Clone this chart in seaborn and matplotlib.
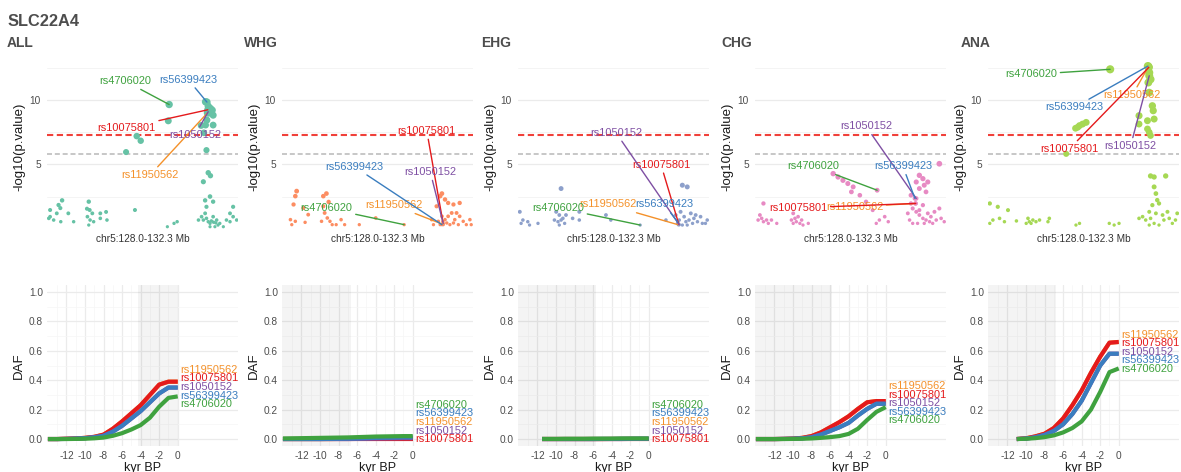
import numpy as np
import pandas as pd
import matplotlib
matplotlib.use("Agg")
import matplotlib.pyplot as plt
import seaborn as sns

# ---------------- data ----------------
GENE = "SLC22A4"
POPS = ["ALL", "WHG", "EHG", "CHG", "ANA"]
SNPS = ["rs11950562", "rs10075801", "rs1050152", "rs56399423", "rs4706020"]

# highlighted SNP positions (Mb) and -log10(p) per population (order of SNPS)
SNP_MB = [131.61, 131.62, 131.63, 131.60, 130.75]
SNP_LOGP = {
    "ALL": [9.0, 9.25, 9.1, 9.85, 9.66],
    "WHG": [0.35, 0.55, 0.40, 0.31, 0.31],
    "EHG": [0.30, 0.35, 0.30, 0.50, 0.28],
    "CHG": [1.96, 1.96, 2.35, 2.35, 2.99],
    "ANA": [12.6, 12.55, 11.9, 12.65, 12.4],
}

# other SNPs in the region: (position Mb, -log10 p)
ALL_POINTS = [
    (130.73, 8.39), (130.02, 7.20), (130.11, 6.84), (129.78, 5.96), (131.57, 9.87), (131.63, 9.53),
    (131.68, 9.35), (131.72, 9.22), (131.65, 9.00), (131.74, 8.83), (131.60, 8.45), (131.57, 8.06),
    (131.53, 7.46), (131.59, 6.11), (131.74, 8.06), (131.47, 8.03), (131.63, 4.35), (131.68, 4.12),
    (131.52, 3.65),
    (128.07, 0.93), (128.04, 0.80), (128.15, 0.67), (128.26, 1.84), (128.34, 2.20), (128.30, 1.60),
    (128.22, 1.19), (128.31, 0.54), (128.07, 1.45), (128.60, 0.54), (128.48, 1.19),
    (128.94, 2.10), (128.96, 1.45), (128.91, 0.93), (128.97, 0.67), (128.94, 0.28), (129.02, 1.19),
    (128.90, 1.55), (129.05, 0.54), (129.20, 0.80), (129.20, 1.19), (129.33, 1.30), (129.35, 0.67),
    (129.98, 1.45), (130.71, 0.15), (130.86, 0.41), (130.93, 0.54),
    (131.41, 0.67), (131.48, 0.93), (131.52, 0.67), (131.56, 1.19), (131.59, 0.80), (131.63, 0.54),
    (131.67, 0.41), (131.74, 0.93), (131.82, 0.67), (131.89, 0.41), (131.97, 0.15), (132.04, 0.67),
    (132.12, 0.54), (132.19, 0.93), (132.27, 0.67), (131.56, 2.20), (131.67, 2.50), (131.59, 1.70),
    (131.74, 2.10), (132.12, 1.19), (132.19, 1.70), (131.67, 0.15), (131.78, 0.15), (131.85, 0.28),
    (131.70, 0.60), (131.75, 0.50), (131.80, 0.45),
]
WHG_POINTS = [
    (128.33, 2.92), (128.30, 2.53), (128.26, 1.88), (128.19, 0.70), (128.22, 0.31), (128.30, 0.57),
    (128.48, 1.61), (128.59, 1.09), (128.52, 0.49),
    (128.93, 2.53), (129.00, 2.73), (129.05, 2.08), (128.93, 1.74), (128.96, 1.22), (129.02, 0.83),
    (129.08, 0.57), (129.13, 0.31), (128.89, 0.57), (129.22, 0.31), (129.33, 0.70), (129.41, 0.31),
    (130.11, 0.83), (129.74, 0.31),
    (131.48, 1.74), (131.56, 2.53), (131.60, 2.73), (131.67, 2.27), (131.74, 2.00), (131.86, 1.88),
    (131.93, 1.22), (132.00, 2.00), (132.00, 0.96), (131.60, 0.96), (131.67, 0.70), (131.71, 0.44),
    (131.78, 0.31), (131.86, 0.44), (131.89, 0.70), (131.97, 0.31), (132.08, 0.57), (132.15, 0.31),
    (132.23, 0.70), (131.56, 0.31), (131.63, 0.31), (131.74, 0.96), (131.82, 1.22), (131.52, 0.57),
    (131.41, 0.31), (131.37, 0.70), (132.26, 0.31),
]
EHG_POINTS = [
    (128.04, 1.31), (128.11, 0.67), (128.22, 0.54), (128.26, 0.28), (128.07, 0.41), (128.45, 0.41),
    (128.86, 1.31), (128.93, 1.06), (129.01, 0.80), (128.90, 0.54), (128.97, 0.67), (129.05, 0.41),
    (129.08, 1.06), (128.82, 0.67), (128.93, 0.28), (128.97, 3.12),
    (129.23, 0.80), (129.38, 0.67), (129.38, 1.31), (129.98, 1.06), (130.09, 0.67), (131.33, 0.67),
    (131.70, 3.38), (131.81, 3.25), (131.55, 1.06), (131.63, 0.67), (131.66, 1.31), (131.74, 0.93),
    (131.78, 0.54), (131.85, 0.67), (131.89, 1.19), (131.93, 0.41), (131.96, 0.80), (132.00, 1.06),
    (132.04, 0.54), (132.11, 0.93), (132.22, 0.41), (132.26, 0.67), (132.15, 0.41), (131.59, 0.41),
    (131.70, 0.28), (131.81, 0.28),
]
CHG_POINTS = [
    (128.19, 1.96), (128.11, 1.06), (128.15, 0.80), (128.19, 0.54), (128.26, 0.67), (128.30, 0.41),
    (128.37, 0.67), (128.07, 0.67), (128.49, 0.41),
    (128.86, 1.19), (128.90, 0.80), (128.93, 0.54), (128.97, 0.93), (128.86, 0.41), (129.01, 0.41),
    (129.05, 0.67), (128.82, 0.67), (129.20, 0.41), (129.08, 0.28),
    (129.76, 4.28), (129.87, 4.02), (129.98, 3.76), (130.09, 3.51), (130.21, 3.25), (130.17, 2.86),
    (130.36, 2.60), (130.50, 2.09), (130.65, 1.44), (130.80, 0.67), (130.92, 0.93), (131.00, 0.54),
    (130.73, 0.41),
    (131.70, 4.15), (131.78, 3.89), (131.63, 3.63), (131.81, 3.38), (131.89, 3.63), (131.70, 3.12),
    (131.85, 2.86), (131.51, 2.60), (131.51, 1.96), (131.55, 1.57), (131.63, 1.31), (131.70, 1.06),
    (131.78, 0.80), (131.85, 0.67), (131.93, 0.54), (132.00, 0.41), (131.48, 0.67), (131.55, 0.41),
    (131.66, 0.41), (131.81, 0.41), (131.89, 1.19), (131.96, 0.93), (132.08, 0.67), (132.15, 1.57),
    (132.19, 0.80), (132.26, 0.54), (132.15, 5.05), (131.78, 1.83), (131.70, 1.44), (131.44, 1.19),
    (132.04, 1.31),
]
ANA_POINTS = [
    (131.63, 12.14), (131.66, 11.62), (131.61, 11.37), (131.63, 10.59), (131.70, 9.56), (131.72, 9.18),
    (131.74, 8.53), (131.59, 7.76), (131.63, 7.50), (131.66, 7.24), (131.59, 8.40), (131.40, 8.79),
    (131.40, 8.14),
    (129.97, 7.81), (130.06, 8.02), (130.13, 8.14), (130.21, 8.27), (130.02, 7.89), (129.76, 5.82),
    (131.66, 4.10), (131.74, 4.02), (132.00, 4.10), (131.74, 3.25), (131.78, 2.73), (131.81, 2.22),
    (131.85, 1.96), (131.70, 1.83), (131.63, 1.31), (131.66, 0.80), (131.55, 0.67), (131.48, 0.93),
    (131.78, 1.19), (131.93, 1.06), (131.96, 0.67), (132.04, 1.31), (132.08, 0.80), (132.15, 0.41),
    (132.22, 0.67), (132.26, 1.19), (131.74, 0.41), (131.85, 0.28), (131.63, 0.28), (131.40, 0.80),
    (128.04, 1.96), (128.04, 0.41), (128.11, 0.67), (128.22, 1.70), (128.26, 0.80), (128.37, 0.54),
    (128.45, 1.44), (128.64, 0.60),
    (128.90, 0.80), (128.93, 0.54), (129.01, 0.67), (129.08, 0.54), (128.97, 0.41), (128.86, 0.41),
    (129.16, 0.67), (129.35, 0.54), (129.38, 0.80),
    (129.98, 0.28), (130.06, 0.41), (130.73, 0.41), (130.84, 0.28), (130.95, 0.41),
]
POINTS = {"ALL": ALL_POINTS, "WHG": WHG_POINTS, "EHG": EHG_POINTS, "CHG": CHG_POINTS, "ANA": ANA_POINTS}

SIG_LINE = 7.3      # genome-wide
SUGG_LINE = 5.8     # suggestive

# DAF trajectories (kyr BP), values in order of SNPS
KYR_14 = [-14, -13, -12, -11, -10, -9, -8, -7, -6, -5, -4, -3, -2, -1, 0]
KYR_EHG = [-11.5, -11, -10, -9, -8, -7, -6, -5, -4, -3, -2, -1, 0]
KYR_ANA = [-11, -10, -9, -8, -7, -6, -5, -4, -3, -2, -1, 0]
DAF_KYR = {"ALL": KYR_14, "WHG": KYR_14, "EHG": KYR_EHG, "CHG": KYR_14, "ANA": KYR_ANA}

DAF_ALL = [
    [0, 0, 0.002, 0.004, 0.008, 0.015, 0.03, 0.07, 0.12, 0.175, 0.23, 0.30, 0.37, 0.39, 0.39],
    [0, 0, 0.002, 0.004, 0.008, 0.015, 0.03, 0.07, 0.12, 0.175, 0.23, 0.30, 0.37, 0.39, 0.39],
    [0, 0, 0.001, 0.003, 0.006, 0.012, 0.022, 0.05, 0.09, 0.14, 0.19, 0.25, 0.31, 0.35, 0.35],
    [0, 0, 0.001, 0.003, 0.006, 0.012, 0.022, 0.05, 0.09, 0.14, 0.19, 0.25, 0.31, 0.35, 0.35],
    [0, 0, 0, 0.001, 0.002, 0.005, 0.01, 0.022, 0.04, 0.065, 0.095, 0.145, 0.22, 0.28, 0.29],
]
DAF_WHG = [
    [0, 0, 0, 0, 0, 0, 0.001, 0.002, 0.003, 0.004, 0.005, 0.006, 0.007, 0.008, 0.008],
    [0, 0, 0, 0, 0, 0, 0, 0, 0, 0, 0, 0, 0, 0, 0],
    [0, 0, 0, 0, 0, 0, 0, 0, 0.001, 0.002, 0.003, 0.004, 0.005, 0.006, 0.006],
    [0, 0, 0, 0, 0, 0.001, 0.002, 0.003, 0.004, 0.006, 0.008, 0.009, 0.010, 0.012, 0.012],
    [0.004, 0.005, 0.006, 0.007, 0.008, 0.009, 0.010, 0.011, 0.013, 0.015, 0.017, 0.018, 0.019, 0.020, 0.020],
]
DAF_EHG = [
    [0, 0, 0, 0, 0, 0, 0, 0, 0.001, 0.001, 0.002, 0.002, 0.002],
    [0, 0, 0, 0, 0, 0, 0, 0, 0, 0, 0, 0, 0],
    [0, 0, 0, 0, 0, 0, 0, 0, 0, 0, 0.001, 0.001, 0.001],
    [0, 0, 0, 0, 0, 0, 0, 0.001, 0.001, 0.002, 0.002, 0.003, 0.003],
    [0.001, 0.001, 0.001, 0.002, 0.002, 0.002, 0.003, 0.003, 0.003, 0.004, 0.004, 0.004, 0.004],
]
DAF_CHG = [
    [0, 0, 0, 0.001, 0.003, 0.008, 0.02, 0.045, 0.08, 0.115, 0.155, 0.205, 0.25, 0.258, 0.258],
    [0, 0, 0, 0.001, 0.003, 0.008, 0.02, 0.045, 0.08, 0.115, 0.155, 0.205, 0.25, 0.258, 0.258],
    [0, 0, 0, 0.001, 0.002, 0.005, 0.012, 0.03, 0.055, 0.08, 0.11, 0.16, 0.205, 0.24, 0.24],
    [0, 0, 0, 0.001, 0.002, 0.005, 0.012, 0.03, 0.055, 0.08, 0.11, 0.16, 0.205, 0.24, 0.24],
    [0, 0, 0, 0, 0.001, 0.002, 0.004, 0.008, 0.013, 0.02, 0.035, 0.07, 0.13, 0.185, 0.217],
]
DAF_ANA = [
    [0, 0.005, 0.018, 0.036, 0.075, 0.14, 0.23, 0.33, 0.45, 0.56, 0.655, 0.66],
    [0, 0.005, 0.018, 0.036, 0.075, 0.14, 0.23, 0.33, 0.45, 0.56, 0.655, 0.66],
    [0, 0.003, 0.012, 0.028, 0.055, 0.10, 0.17, 0.26, 0.38, 0.50, 0.58, 0.58],
    [0, 0.003, 0.012, 0.028, 0.055, 0.10, 0.17, 0.26, 0.38, 0.50, 0.58, 0.58],
    [0, 0.002, 0.006, 0.013, 0.025, 0.045, 0.075, 0.12, 0.20, 0.32, 0.455, 0.48],
]
DAF = {"ALL": DAF_ALL, "WHG": DAF_WHG, "EHG": DAF_EHG, "CHG": DAF_CHG, "ANA": DAF_ANA}

# shaded time windows (kyr BP)
SHADE = {"ALL": (-4.25, 0.0), "WHG": (-14.5, -6.7), "EHG": (-14.5, -5.7),
         "CHG": (-14.5, -5.8), "ANA": (-14.5, -6.8)}

# ---------------- styles / layout ----------------
POP_COLORS = {"ALL": "#66C2A5", "WHG": "#FC8D62", "EHG": "#8DA0CB", "CHG": "#E78AC3", "ANA": "#A6D854"}
SNP_COLORS = {"rs11950562": "#F4912A", "rs10075801": "#E41A1C", "rs1050152": "#7E4FA3",
              "rs56399423": "#3A7DBF", "rs4706020": "#3FA23F"}

# repelled label positions in the Manhattan panels (Mb, -log10 p)
LABEL_XY = {
    "ALL": {"rs4706020": (129.76, 11.48), "rs56399423": (131.18, 11.6), "rs10075801": (129.79, 7.85),
            "rs1050152": (131.33, 7.28), "rs11950562": (130.32, 4.17)},
    "WHG": {"rs10075801": (131.26, 7.6), "rs56399423": (129.63, 4.82), "rs1050152": (131.34, 4.4),
            "rs4706020": (129.0, 1.6), "rs11950562": (130.52, 1.82)},
    "EHG": {"rs1050152": (130.21, 7.45), "rs10075801": (131.22, 4.97), "rs4706020": (128.9, 1.62),
            "rs11950562": (130.02, 1.88), "rs56399423": (131.29, 1.88)},
    "CHG": {"rs1050152": (130.5, 7.96), "rs56399423": (131.33, 4.85), "rs4706020": (129.32, 4.85),
            "rs10075801": (128.97, 1.62), "rs11950562": (130.24, 1.7)},
    "ANA": {"rs4706020": (128.97, 12.0), "rs56399423": (129.94, 9.43), "rs11950562": (131.25, 10.39),
            "rs10075801": (129.83, 6.2), "rs1050152": (131.21, 6.44)},
}

W, H = 1181, 472
AX_LEFT = [47, 282, 518, 755, 988]
AX_W = 191
TITLE_X = [7, 244, 481, 721, 961]
TOP_Y = (61.6, 232.5)
BOT_Y = (284.6, 446.4)

sns.set_style("white")
plt.rcParams["font.family"] = ["Liberation Sans", "DejaVu Sans"]
plt.rcParams["axes.unicode_minus"] = False

fig = plt.figure(figsize=(W / 100, H / 100), dpi=100)
fig.patch.set_facecolor("white")

TXT = "#4D4D4D"
GRID = "#EBEBEB"


def ax_rect(left, ytop, ybot):
    return [left / W, 1 - ybot / H, AX_W / W, (ybot - ytop) / H]


def spread(finals, spacing, lo):
    idx = sorted(range(len(finals)), key=lambda i: (-finals[i], i))
    pos = [finals[i] for i in idx]
    for _ in range(800):
        for k in range(1, len(pos)):
            gap = pos[k - 1] - pos[k]
            if gap < spacing:
                d = (spacing - gap) / 2
                pos[k - 1] += d
                pos[k] -= d
        pos = [max(p, lo) for p in pos]
    out = [0] * len(finals)
    for k, i in enumerate(idx):
        out[i] = pos[k]
    return out


fig.text(8 / W, 1 - 21 / H, GENE, fontsize=11.8, fontweight="bold", color=TXT, va="center", ha="left")

for j, pop in enumerate(POPS):
    fig.text(TITLE_X[j] / W, 1 - 43 / H, pop, fontsize=10, fontweight="bold", color=TXT,
             va="center", ha="left")

    # ---------- Manhattan-like panel ----------
    ax = fig.add_axes(ax_rect(AX_LEFT[j], *TOP_Y))
    ax.set_axisbelow(True)
    pts = pd.DataFrame(POINTS[pop], columns=["mb", "logp"])
    snp_df = pd.DataFrame({"mb": SNP_MB, "logp": SNP_LOGP[pop]})
    df = pd.concat([pts, snp_df], ignore_index=True)
    ax.axhline(SUGG_LINE, color="#BDBDBD", lw=1.2, ls=(0, (3, 1.7)), zorder=1)
    ax.axhline(SIG_LINE, color="#F0403A", lw=1.5, ls=(0, (3, 1.7)), zorder=1)
    sns.scatterplot(data=df, x="mb", y="logp", size="logp", sizes=(5, 36), size_norm=(0, 13),
                    color=POP_COLORS[pop], linewidth=0, legend=False, ax=ax, zorder=2)
    for k, snp in enumerate(SNPS):
        lx, ly = LABEL_XY[pop][snp]
        c = SNP_COLORS[snp]
        ax.annotate(snp, xy=(SNP_MB[k], SNP_LOGP[pop][k]), xytext=(lx, ly), textcoords="data",
                    color=c, fontsize=7.9, ha="center", va="center", zorder=5,
                    arrowprops=dict(arrowstyle="-", color=c, lw=1.0, shrinkA=0, shrinkB=0))
    ax.set_xlim(128.0, 132.3)
    ax.set_ylim(-0.3, 13.0)
    ax.set_yticks([5, 10])
    ax.set_yticks([2.5, 7.5, 12.5], minor=True)
    ax.set_xticks([130.15])
    ax.tick_params(axis="y", which="major", length=2.5, width=0.8, color=TXT, labelsize=7.3,
                   labelcolor=TXT, pad=2)
    ax.tick_params(axis="y", which="minor", length=0)
    ax.tick_params(axis="x", which="major", length=2.5, width=0.8, color="#333333", labelbottom=False)
    ax.grid(axis="y", which="major", color=GRID, lw=0.9)
    ax.grid(axis="y", which="minor", color="#F2F2F2", lw=0.6)
    ax.grid(axis="x", visible=False)
    for s in ax.spines.values():
        s.set_visible(False)
    ax.set_xlabel("chr5:128.0-132.3 Mb", fontsize=7.3, color="#333333", labelpad=1)
    ax.set_ylabel("-log10(p.value)", fontsize=9.5, color="#1A1A1A")
    ax.yaxis.set_label_coords(-22 / AX_W, 0.5)

    # ---------- DAF trajectory panel ----------
    bx = fig.add_axes(ax_rect(AX_LEFT[j], *BOT_Y))
    bx.set_axisbelow(True)
    rows = []
    for k, snp in enumerate(SNPS):
        for t, v in zip(DAF_KYR[pop], DAF[pop][k]):
            rows.append((snp, t, v))
    ddf = pd.DataFrame(rows, columns=["snp", "kyr", "daf"])
    a, b = SHADE[pop]
    bx.axvspan(a, b, color="#000000", alpha=0.045, lw=0, zorder=0.6)
    sns.lineplot(data=ddf, x="kyr", y="daf", hue="snp", hue_order=SNPS, palette=SNP_COLORS,
                 lw=3.0, legend=False, ax=bx, solid_capstyle="butt", zorder=3)
    finals = [DAF[pop][k][-1] for k in range(len(SNPS))]
    ypos = spread(finals, 0.058, 0.0)
    for k, snp in enumerate(SNPS):
        bx.text(0.25, ypos[k], snp, color=SNP_COLORS[snp], fontsize=7.9, ha="left", va="center",
                zorder=5)
    bx.set_xlim(-14.1, 6.5)
    bx.set_ylim(-0.05, 1.05)
    bx.set_xticks([-12, -10, -8, -6, -4, -2, 0])
    bx.set_xticks([-13, -11, -9, -7, -5, -3, -1], minor=True)
    bx.set_yticks([0, 0.2, 0.4, 0.6, 0.8, 1.0])
    bx.set_yticks([0.1, 0.3, 0.5, 0.7, 0.9], minor=True)
    bx.set_yticklabels(["0.0", "0.2", "0.4", "0.6", "0.8", "1.0"])
    bx.tick_params(axis="both", which="both", length=0, labelsize=7.3, labelcolor=TXT, pad=3)
    bx.grid(which="major", color=GRID, lw=0.9)
    bx.grid(which="minor", color="#F6F6F6", lw=0.5)
    for s in bx.spines.values():
        s.set_visible(False)
    bx.set_xlabel("kyr BP", fontsize=9, color="#1A1A1A", labelpad=1)
    bx.set_ylabel("DAF", fontsize=9.5, color="#1A1A1A")
    bx.yaxis.set_label_coords(-22 / AX_W, 0.5)

fig.savefig("out.png", dpi=100, facecolor="white")
